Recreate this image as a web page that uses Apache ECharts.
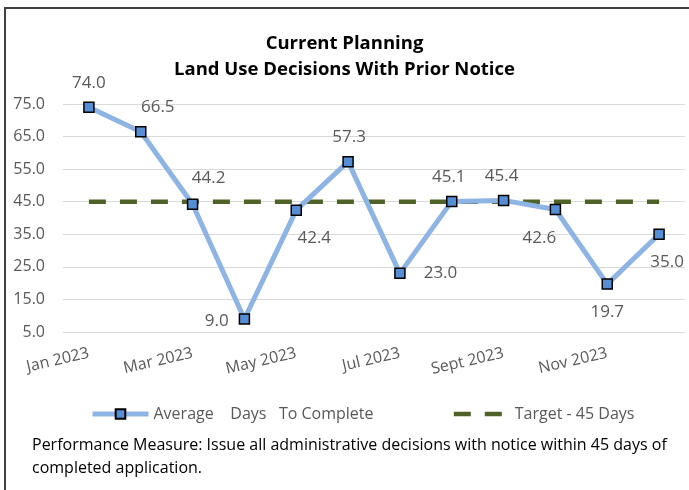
<!DOCTYPE html>
<html lang="en">
<head>
    <meta charset="UTF-8">
    <script src="https://cdn.jsdelivr.net/npm/echarts@6/dist/echarts.min.js"></script>
    <title>Current Planning - Land Use Decisions With Prior Notice</title>
    <style>
        html, body { margin: 0; padding: 0; background: #fff; }
        #chart { width: 689px; height: 490px; }
    </style>
</head>
<body>
    <div id="chart"></div>
    <script>
        // data
        const months = ['Jan 2023', 'Feb 2023', 'Mar 2023', 'Apr 2023', 'May 2023', 'Jun 2023',
            'Jul 2023', 'Aug 2023', 'Sept 2023', 'Oct 2023', 'Nov 2023', 'Dec 2023'];
        const avgDays = [74.0, 66.5, 44.2, 9.0, 42.4, 57.3, 23.0, 45.1, 45.4, 42.6, 19.7, 35.0];
        const target = [45, 45, 45, 45, 45, 45, 45, 45, 45, 45, 45, 45];
        const yTicks = [5, 15, 25, 35, 45, 55, 65, 75];

        // where each data label sits around its point (style only)
        const labelPlace = [
            ['top', [0, 0]], ['top', [17, 0]], ['top', [16, -2]], ['left', [0, 2]],
            ['bottom', [18, 4]], ['top', [1, 0]], ['right', [8, 0]], ['top', [-3, 0]],
            ['top', [-2, 0]], ['bottom', [-16, 4]], ['bottom', [0, 4]], ['bottom', [8, 4]]
        ];

        const font = "'Open Sans', sans-serif";
        const grey = '#595959';

        const chart = echarts.init(document.getElementById('chart'));
        chart.setOption({
            animation: false,
            textStyle: { fontFamily: font },
            title: {
                text: 'Current Planning\nLand Use Decisions With Prior Notice',
                left: 'center',
                top: 26,
                textStyle: { fontFamily: font, fontSize: 18.5, fontWeight: 'bold', color: '#000', lineHeight: 26 }
            },
            legend: {
                left: 85,
                top: 401,
                itemWidth: 56,
                itemHeight: 12,
                itemGap: 78,
                textStyle: { fontFamily: font, fontSize: 16, color: grey },
                data: [
                    { name: 'Average    Days   To Complete', lineStyle: { width: 5 } },
                    { name: 'Target - 45 Days', itemStyle: { opacity: 0 }, lineStyle: { width: 4.5 } }
                ]
            },
            grid: { left: 63, right: 4, top: 104, bottom: 158 },
            xAxis: {
                type: 'category',
                data: months,
                axisLine: { show: false },
                axisTick: { show: false },
                axisLabel: { interval: 1, rotate: 13, margin: 21, fontSize: 16, color: grey, fontFamily: font }
            },
            yAxis: {
                type: 'value',
                min: yTicks[0],
                max: yTicks[yTicks.length - 1],
                interval: 10,
                axisLabel: { fontSize: 16, color: grey, margin: 18, fontFamily: font, formatter: v => v.toFixed(1) },
                splitLine: { lineStyle: { color: '#D9D9D9', width: 1 } }
            },
            graphic: [{
                type: 'rect',
                shape: { x: 5, y: 8, width: 720, height: 520 },
                style: { fill: 'none', stroke: '#404040', lineWidth: 2 },
                silent: true
            }, {
                type: 'text',
                left: 32,
                top: 434,
                style: {
                    text: 'Performance Measure: Issue all administrative decisions with notice within 45 days of\ncompleted application.',
                    font: "16px " + font,
                    fill: '#000',
                    lineHeight: 23
                }
            }],
            series: [{
                name: 'Average    Days   To Complete',
                type: 'line',
                data: avgDays.map((v, i) => ({
                    value: v,
                    label: { position: labelPlace[i][0], offset: labelPlace[i][1] }
                })),
                symbol: 'rect',
                symbolSize: 10,
                z: 3,
                lineStyle: { color: '#8EB4E3', width: 5 },
                itemStyle: { color: '#558ED5', borderColor: '#000', borderWidth: 1.5 },
                label: {
                    show: true,
                    fontSize: 17,
                    color: grey,
                    distance: 10,
                    fontFamily: font,
                    formatter: p => p.value.toFixed(1)
                }
            }, {
                name: 'Target - 45 Days',
                type: 'line',
                data: target,
                symbol: 'none',
                z: 2,
                lineStyle: { color: '#4F6228', width: 4.5, type: [17, 14], cap: 'butt' },
                itemStyle: { color: '#4F6228' }
            }]
        });
    </script>
</body>
</html>
